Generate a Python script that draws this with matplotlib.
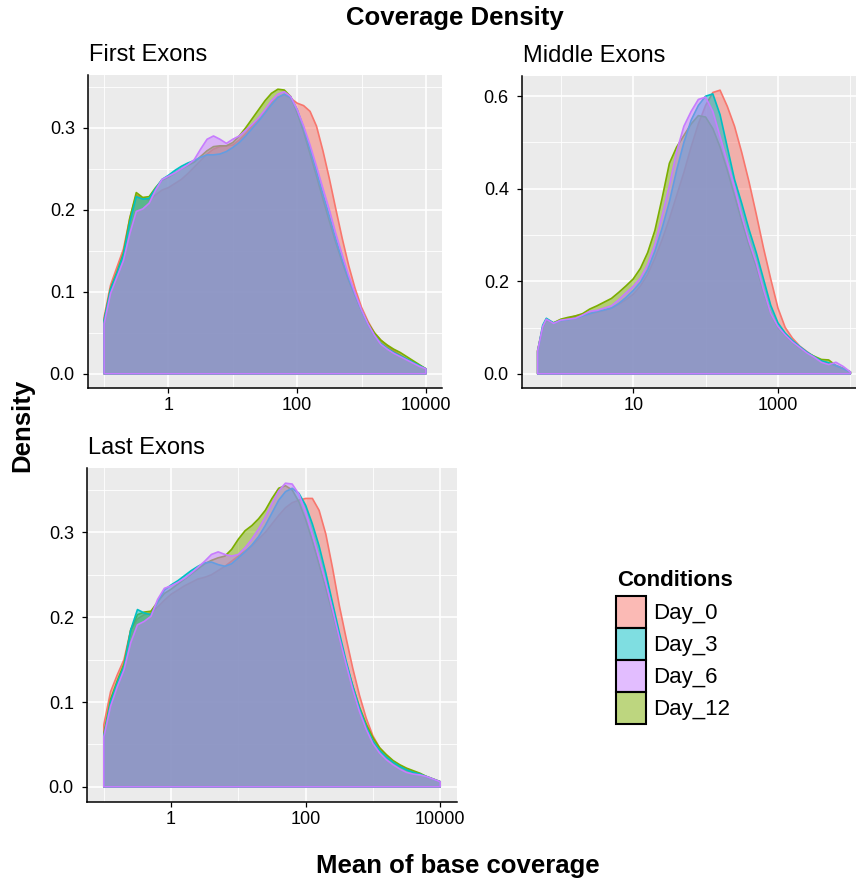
import numpy as np
import matplotlib.pyplot as plt
from matplotlib.colors import to_rgba
from matplotlib.patches import Patch
from matplotlib.ticker import FixedLocator, NullFormatter

plt.rcParams['font.family'] = ['Liberation Sans', 'DejaVu Sans']

conditions = ['Day_0', 'Day_3', 'Day_6', 'Day_12']
colors = {'Day_0': '#F8766D', 'Day_3': '#00BFC4', 'Day_6': '#C77CFF', 'Day_12': '#7CAE00'}
# ggplot draws groups in alphabetical level order
draw_order = ['Day_0', 'Day_12', 'Day_3', 'Day_6']

# First exons: log10(mean coverage) and density per condition
first_logx = [-1.0, -0.9, -0.8, -0.7, -0.6, -0.5, -0.4, -0.3, -0.2, -0.1,
              0.0, 0.1, 0.2, 0.3, 0.4, 0.5, 0.6, 0.7, 0.8, 0.9,
              1.0, 1.1, 1.2, 1.3, 1.4, 1.5, 1.6, 1.7, 1.8, 1.9,
              2.0, 2.1, 2.2, 2.3, 2.4, 2.5, 2.6, 2.7, 2.8, 2.9,
              3.0, 3.1, 3.2, 3.3, 3.4, 3.5, 3.6, 3.7, 3.8, 3.9, 4.0]
first_day0 = [0.069, 0.108, 0.130, 0.152, 0.190, 0.218, 0.214, 0.212, 0.218, 0.224,
              0.227, 0.232, 0.237, 0.244, 0.252, 0.260, 0.268, 0.274, 0.277, 0.278,
              0.279, 0.285, 0.293, 0.302, 0.311, 0.321, 0.330, 0.337, 0.340, 0.336,
              0.330, 0.327, 0.320, 0.302, 0.272, 0.238, 0.201, 0.165, 0.132, 0.104,
              0.081, 0.064, 0.050, 0.041, 0.034, 0.028, 0.023, 0.018, 0.014, 0.010, 0.006]
first_day3 = [0.065, 0.103, 0.123, 0.145, 0.185, 0.216, 0.213, 0.214, 0.226, 0.237,
              0.242, 0.248, 0.253, 0.257, 0.260, 0.264, 0.267, 0.267, 0.268, 0.271,
              0.276, 0.282, 0.290, 0.299, 0.308, 0.318, 0.328, 0.337, 0.341, 0.337,
              0.322, 0.300, 0.274, 0.247, 0.219, 0.192, 0.164, 0.139, 0.116, 0.096,
              0.077, 0.060, 0.047, 0.037, 0.031, 0.026, 0.022, 0.018, 0.014, 0.010, 0.006]
first_day6 = [0.061, 0.098, 0.118, 0.138, 0.171, 0.198, 0.201, 0.208, 0.224, 0.237,
              0.241, 0.245, 0.250, 0.255, 0.261, 0.274, 0.286, 0.290, 0.286, 0.281,
              0.286, 0.290, 0.297, 0.304, 0.312, 0.322, 0.333, 0.341, 0.344, 0.338,
              0.322, 0.302, 0.279, 0.253, 0.226, 0.200, 0.171, 0.145, 0.120, 0.098,
              0.078, 0.061, 0.047, 0.036, 0.030, 0.025, 0.021, 0.017, 0.013, 0.009, 0.006]
first_day12 = [0.065, 0.104, 0.124, 0.147, 0.190, 0.221, 0.215, 0.216, 0.227, 0.236,
               0.240, 0.245, 0.250, 0.254, 0.258, 0.265, 0.272, 0.277, 0.278, 0.278,
               0.282, 0.290, 0.300, 0.311, 0.322, 0.333, 0.342, 0.347, 0.346, 0.338,
               0.318, 0.295, 0.268, 0.241, 0.213, 0.186, 0.160, 0.136, 0.114, 0.095,
               0.077, 0.062, 0.050, 0.041, 0.035, 0.030, 0.026, 0.021, 0.016, 0.011, 0.006]

# Middle exons
middle_logx = [-0.32, -0.25, -0.2, -0.1, 0.0, 0.1, 0.2, 0.3, 0.4, 0.5, 0.6, 0.7, 0.8, 0.9,
               1.0, 1.1, 1.2, 1.3, 1.4, 1.5, 1.6, 1.7, 1.8, 1.9,
               2.0, 2.1, 2.2, 2.3, 2.4, 2.5, 2.6, 2.7, 2.8, 2.9,
               3.0, 3.1, 3.2, 3.3, 3.4, 3.5, 3.6, 3.7, 3.8, 3.9, 4.0]
middle_day0 = [0.050, 0.100, 0.118, 0.110, 0.117, 0.120, 0.125, 0.128, 0.130, 0.133, 0.137, 0.142, 0.150, 0.160,
               0.172, 0.190, 0.215, 0.250, 0.290, 0.335, 0.385, 0.435, 0.490, 0.540,
               0.580, 0.608, 0.613, 0.578, 0.535, 0.478, 0.415, 0.345, 0.272, 0.205,
               0.142, 0.100, 0.077, 0.060, 0.048, 0.037, 0.027, 0.023, 0.017, 0.011, 0.004]
middle_day3 = [0.048, 0.105, 0.120, 0.110, 0.115, 0.117, 0.120, 0.125, 0.130, 0.135, 0.138, 0.142, 0.152, 0.165,
               0.180, 0.198, 0.225, 0.265, 0.315, 0.372, 0.440, 0.500, 0.548, 0.580,
               0.600, 0.605, 0.560, 0.490, 0.420, 0.368, 0.312, 0.262, 0.205, 0.148,
               0.110, 0.088, 0.072, 0.059, 0.047, 0.037, 0.028, 0.024, 0.018, 0.011, 0.004]
middle_day6 = [0.050, 0.102, 0.118, 0.109, 0.116, 0.118, 0.120, 0.127, 0.135, 0.137, 0.142, 0.147, 0.160, 0.175,
               0.189, 0.207, 0.236, 0.280, 0.342, 0.407, 0.480, 0.535, 0.567, 0.593,
               0.598, 0.567, 0.513, 0.458, 0.404, 0.342, 0.287, 0.240, 0.182, 0.131,
               0.102, 0.084, 0.069, 0.057, 0.045, 0.036, 0.025, 0.020, 0.025, 0.016, 0.004]
middle_day12 = [0.050, 0.100, 0.116, 0.110, 0.118, 0.122, 0.125, 0.130, 0.140, 0.147, 0.155, 0.163, 0.176, 0.190,
                0.205, 0.228, 0.262, 0.310, 0.380, 0.455, 0.490, 0.515, 0.540, 0.558,
                0.555, 0.530, 0.490, 0.440, 0.385, 0.330, 0.278, 0.232, 0.178, 0.130,
                0.100, 0.083, 0.068, 0.056, 0.045, 0.038, 0.031, 0.030, 0.018, 0.012, 0.004]

# Last exons
last_logx = first_logx
last_day0 = [0.073, 0.112, 0.132, 0.150, 0.185, 0.198, 0.203, 0.205, 0.212, 0.220,
             0.227, 0.232, 0.237, 0.241, 0.245, 0.247, 0.250, 0.255, 0.260, 0.266,
             0.272, 0.278, 0.284, 0.292, 0.300, 0.310, 0.320, 0.329, 0.335, 0.338,
             0.340, 0.340, 0.326, 0.298, 0.258, 0.214, 0.176, 0.140, 0.108, 0.081,
             0.060, 0.046, 0.037, 0.030, 0.025, 0.021, 0.018, 0.015, 0.012, 0.009, 0.006]
last_day3 = [0.060, 0.100, 0.123, 0.142, 0.185, 0.209, 0.205, 0.203, 0.218, 0.232,
             0.238, 0.243, 0.249, 0.255, 0.260, 0.264, 0.265, 0.262, 0.260, 0.263,
             0.270, 0.277, 0.285, 0.295, 0.308, 0.323, 0.338, 0.348, 0.352, 0.346,
             0.332, 0.310, 0.284, 0.252, 0.217, 0.182, 0.149, 0.119, 0.093, 0.071,
             0.054, 0.043, 0.035, 0.029, 0.024, 0.020, 0.017, 0.015, 0.012, 0.009, 0.006]
last_day6 = [0.059, 0.095, 0.118, 0.138, 0.170, 0.191, 0.195, 0.201, 0.221, 0.234,
             0.237, 0.241, 0.246, 0.252, 0.259, 0.266, 0.274, 0.277, 0.274, 0.272,
             0.274, 0.282, 0.292, 0.304, 0.318, 0.334, 0.349, 0.358, 0.357, 0.345,
             0.324, 0.298, 0.270, 0.241, 0.209, 0.176, 0.145, 0.115, 0.089, 0.068,
             0.051, 0.040, 0.032, 0.026, 0.021, 0.017, 0.015, 0.014, 0.012, 0.009, 0.006]
last_day12 = [0.062, 0.103, 0.125, 0.145, 0.185, 0.203, 0.206, 0.207, 0.218, 0.228,
              0.233, 0.239, 0.245, 0.251, 0.257, 0.263, 0.267, 0.270, 0.272, 0.280,
              0.292, 0.302, 0.308, 0.316, 0.326, 0.340, 0.352, 0.355, 0.350, 0.336,
              0.315, 0.290, 0.262, 0.234, 0.205, 0.175, 0.146, 0.119, 0.094, 0.074,
              0.058, 0.046, 0.038, 0.031, 0.026, 0.022, 0.019, 0.016, 0.012, 0.009, 0.006]

W, H = 856, 881
fig = plt.figure(figsize=(W / 100, H / 100), dpi=100)


def box(x0, y0, x1, y1):
    # pixel box (top-left origin) -> figure fraction
    return [x0 / W, 1 - y1 / H, (x1 - x0) / W, (y1 - y0) / H]


def panel(rect, title, logx, dens, major, minor, yticks):
    ax = fig.add_axes(box(*rect))
    x = 10 ** np.array(logx)
    for c in draw_order:
        y = np.array(dens[c])
        xs = np.concatenate([[x[0]], x, [x[-1]]])
        ys = np.concatenate([[0], y, [0]])
        ax.fill(xs, ys, facecolor=to_rgba(colors[c], 0.5), edgecolor=colors[c], lw=1.2,
                joinstyle='round')
    ax.set_xscale('log')
    lo, hi = logx[0], logx[-1]
    pad = 0.05 * (hi - lo)
    ax.set_xlim(10 ** (lo - pad), 10 ** (hi + pad))
    ymax = max(max(v) for v in dens.values())
    ax.set_ylim(-0.05 * ymax, 1.05 * ymax)

    ax.xaxis.set_major_locator(FixedLocator(major))
    ax.xaxis.set_minor_locator(FixedLocator(minor))
    ax.xaxis.set_minor_formatter(NullFormatter())
    ax.set_xticklabels([str(m) for m in major])
    ax.yaxis.set_major_locator(FixedLocator(yticks))
    step = yticks[1] - yticks[0]
    ax.yaxis.set_minor_locator(FixedLocator([t + step / 2 for t in yticks]))
    ax.set_yticklabels(['%.1f' % t for t in yticks])

    ax.set_facecolor('#EBEBEB')
    ax.set_axisbelow(True)
    ax.grid(which='major', color='white', lw=1.2)
    ax.grid(which='minor', color='white', lw=0.6)
    for s in ['top', 'right']:
        ax.spines[s].set_visible(False)
    for s in ['left', 'bottom']:
        ax.spines[s].set_color('black')
        ax.spines[s].set_linewidth(1.1)
    ax.tick_params(which='major', length=3.5, width=0.9, color='black', labelsize=13, labelcolor='black')
    ax.tick_params(axis='y', pad=6)
    ax.tick_params(axis='x', pad=3)
    ax.tick_params(which='minor', length=0)
    fig.text((rect[0] + 1) / W, 1 - (rect[1] - 20) / H, title, ha='left', va='center', fontsize=17)
    return ax


panel((88, 75, 442, 388), 'First Exons', first_logx,
      {'Day_0': first_day0, 'Day_3': first_day3, 'Day_6': first_day6, 'Day_12': first_day12},
      [1, 100, 10000], [0.1, 10, 1000], [0.0, 0.1, 0.2, 0.3])
# right part of this panel runs past the image edge in the original
panel((522, 76, 866, 388), 'Middle Exons', middle_logx,
      {'Day_0': middle_day0, 'Day_3': middle_day3, 'Day_6': middle_day6, 'Day_12': middle_day12},
      [10, 1000], [1, 100, 10000], [0.0, 0.2, 0.4, 0.6])
panel((87, 468, 457, 802), 'Last Exons', last_logx,
      {'Day_0': last_day0, 'Day_3': last_day3, 'Day_6': last_day6, 'Day_12': last_day12},
      [1, 100, 10000], [0.1, 10, 1000], [0.0, 0.1, 0.2, 0.3])

fig.text(455 / W, 1 - 18 / H, 'Coverage Density', ha='center', va='center', fontsize=18.5, fontweight='bold')
fig.text(22 / W, 1 - 425 / H, 'Density', ha='center', va='center', rotation=90, fontsize=18.5, fontweight='bold')
fig.text(458 / W, 1 - 866 / H, 'Mean of base coverage', ha='center', va='center', fontsize=18.5, fontweight='bold')

# legend: title placed on its own so the gap above the keys matches
fig.text(617 / W, 1 - 580 / H, 'Conditions', ha='left', va='center', fontsize=16, fontweight='bold')
handles = [Patch(facecolor=to_rgba(colors[c], 0.5), edgecolor='black', linewidth=1.5) for c in conditions]
leg = fig.legend(handles, conditions, loc='upper left', bbox_to_anchor=(616 / W, 1 - 596 / H),
                 frameon=False, fontsize=16, handlelength=1.35, handleheight=1.84, labelspacing=0.0,
                 handletextpad=0.3, borderpad=0, borderaxespad=0)

fig.savefig('out.png', dpi=100)
